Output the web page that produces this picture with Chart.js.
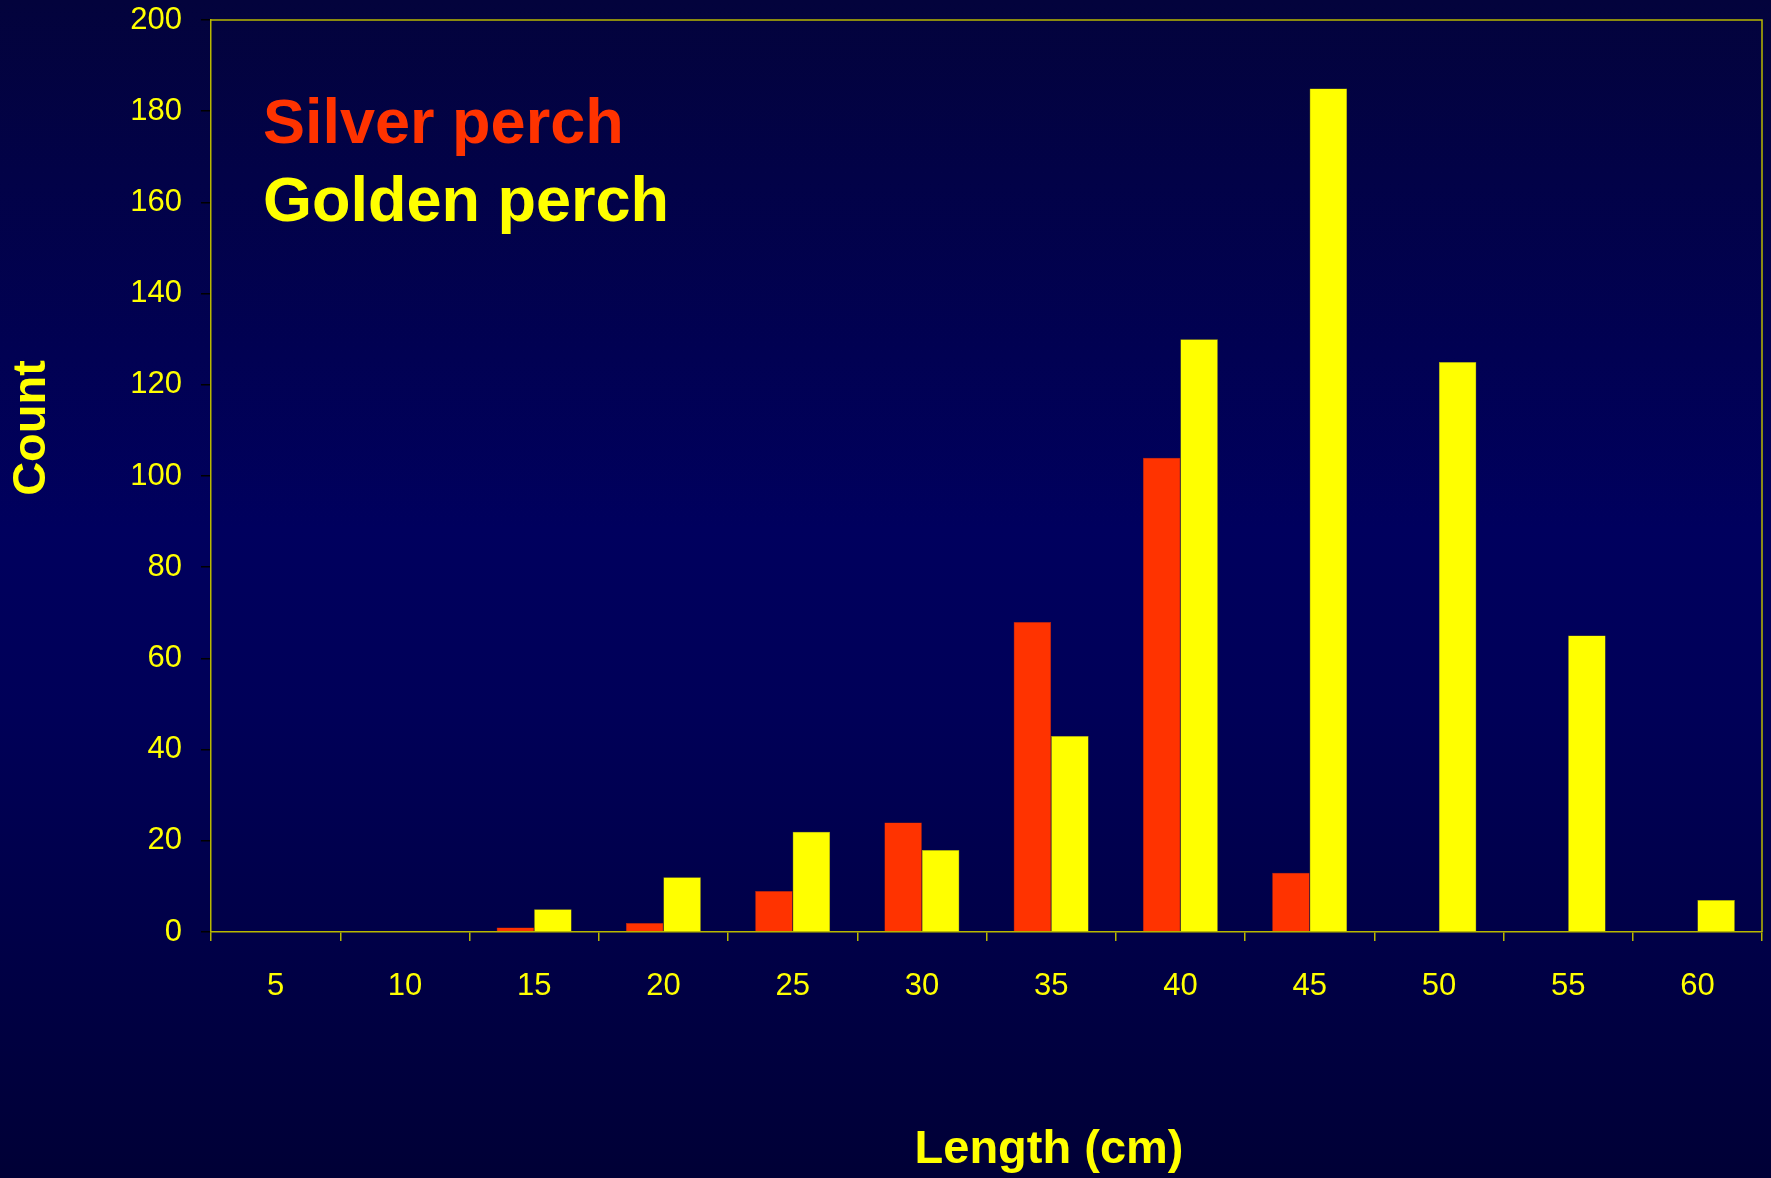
<!DOCTYPE html>
<html>
<head>
<meta charset="utf-8">
<script src="https://cdn.jsdelivr.net/npm/chart.js@4"></script>
<style>
  html, body { margin: 0; padding: 0; }
  body {
    width: 1771px; height: 1178px; overflow: hidden;
    background: linear-gradient(to bottom, #03033c 0%, #00005e 45%, #000058 60%, #000036 100%);
  }
  #wrap { position: relative; width: 1771px; height: 1178px; }
</style>
</head>
<body>
<div id="wrap"><canvas id="lengthChart" width="1771" height="1178"></canvas></div>
<script>
// length classes (cm)
const lengths = ['5', '10', '15', '20', '25', '30', '35', '40', '45', '50', '55', '60'];
// counts per length class
const silverPerch = [0, 0, 1, 2, 9, 24, 68, 104, 13, 0, 0, 0];
const goldenPerch = [0, 0, 5, 12, 22, 18, 43, 130, 185, 125, 65, 7];
const countTicks = [0, 20, 40, 60, 80, 100, 120, 140, 160, 180, 200];

const FONT = '"Liberation Sans", Arial, sans-serif';
const YELLOW = '#ffff00';
const RED = '#ff3300';
const AXIS = '#b8b800';

// extra text + frame on the plot
const slideText = {
  id: 'slideText',
  afterDraw(chart) {
    const ctx = chart.ctx;
    const a = chart.chartArea;
    ctx.save();
    // top and right frame lines
    ctx.strokeStyle = AXIS;
    ctx.lineWidth = 1.5;
    ctx.beginPath();
    ctx.moveTo(a.left, a.top);
    ctx.lineTo(a.right, a.top);
    ctx.lineTo(a.right, a.bottom);
    ctx.stroke();

    // legend words
    ctx.font = 'bold 63px ' + FONT;
    ctx.textAlign = 'left';
    ctx.textBaseline = 'alphabetic';
    ctx.fillStyle = RED;
    ctx.fillText('Silver perch', 263, 143);
    ctx.fillStyle = YELLOW;
    ctx.fillText('Golden perch', 263, 221);

    // axis titles
    ctx.font = 'bold 47px ' + FONT;
    ctx.textAlign = 'center';
    ctx.textBaseline = 'middle';
    ctx.fillText('Length (cm)', 1049, 1150);
    ctx.translate(32, 428);
    ctx.rotate(-Math.PI / 2);
    ctx.fillText('Count', 0, 0);
    ctx.restore();
  }
};

const chart = new Chart(document.getElementById('lengthChart'), {
  type: 'bar',
  data: {
    labels: lengths,
    datasets: [
      { label: 'Silver perch', data: silverPerch, backgroundColor: RED, borderColor: '#c02800', borderWidth: 0.5 },
      { label: 'Golden perch', data: goldenPerch, backgroundColor: YELLOW, borderColor: '#b0b000', borderWidth: 0.5 }
    ]
  },
  options: {
    responsive: false,
    animation: false,
    maintainAspectRatio: false,
    layout: { padding: { top: 20, right: 9, left: 0, bottom: 0 } },
    plugins: { legend: { display: false }, tooltip: { enabled: false } },
    datasets: { bar: { categoryPercentage: 0.58, barPercentage: 1.0 } },
    scales: {
      x: {
        offset: true,
        grid: { display: true, drawOnChartArea: false, drawTicks: true, tickLength: 9, color: AXIS, offset: true, lineWidth: 1.5 },
        border: { display: true, color: AXIS, width: 1.5 },
        ticks: { color: YELLOW, font: { family: FONT, size: 31 }, padding: 27, maxRotation: 0, autoSkip: false },
        afterFit(scale) {
          scale.height = 1178 - 932;
          scale.paddingLeft = 0;
          scale.paddingRight = 0;
        }
      },
      y: {
        min: 0,
        max: 200,
        afterBuildTicks(scale) { scale.ticks = countTicks.map(v => ({ value: v })); },
        grid: { display: true, drawOnChartArea: false, drawTicks: true, tickLength: 10, color: '#000000', lineWidth: 1.5 },
        border: { display: true, color: AXIS, width: 1.5 },
        ticks: { color: YELLOW, font: { family: FONT, size: 31 }, padding: 19 },
        afterFit(scale) {
          scale.width = 211;
          scale.paddingTop = 0;
          scale.paddingBottom = 0;
        }
      }
    }
  },
  plugins: [slideText]
});
</script>
</body>
</html>
